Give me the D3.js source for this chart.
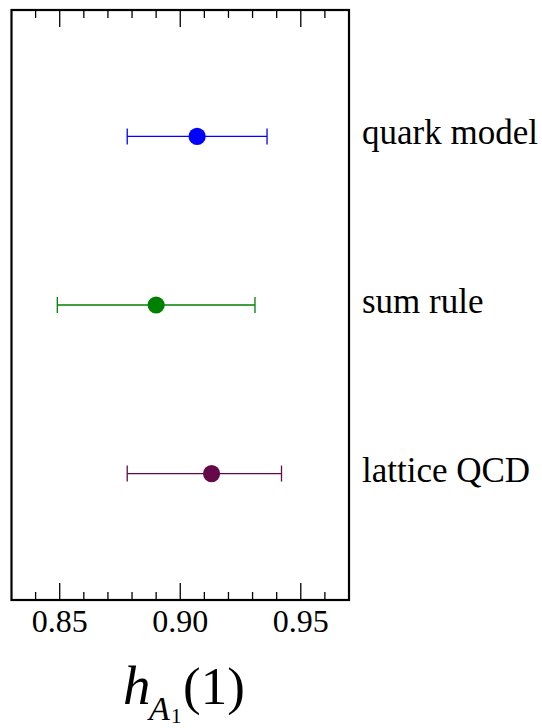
<!DOCTYPE html>
<html>
<head>
<meta charset="utf-8">
<script src="https://cdn.jsdelivr.net/npm/d3@7"></script>
<style>
  html, body { margin: 0; padding: 0; background: #fff; }
  svg { display: block; }
</style>
</head>
<body>
<svg id="chart" width="542" height="728"></svg>
<script>
const categories = ["quark model", "sum rule", "lattice QCD"];
const centralValues = [0.907, 0.890, 0.913];
const lowValues = [0.878, 0.849, 0.878];
const highValues = [0.936, 0.931, 0.942];
const colors = ["#0000ff", "#008000", "#640a4b"];
const majorTicks = [0.85, 0.90, 0.95];
const minorTicks = [0.84, 0.85, 0.86, 0.87, 0.88, 0.89, 0.90, 0.91, 0.92, 0.93, 0.94, 0.95, 0.96];
const tickLabels = ["0.85", "0.90", "0.95"];

(function () {
const FONT = "Liberation Serif";
const svg = d3.select("#chart");
const pLeft = 11.5, pRight = 349, pTop = 10, pBottom = 600;

const x = d3.scaleLinear().domain([0.83, 0.97]).range([pLeft, pRight]);
const y = d3.scalePoint().domain(categories).range([pTop, pBottom]).padding(0.75);

const minorLen = 8, majorLen = 17;
const tickG = svg.append("g").attr("stroke", "#000").attr("stroke-width", 1.3);
minorTicks.forEach(v => {
  const isMajor = majorTicks.some(m => Math.abs(m - v) < 1e-9);
  const len = isMajor ? majorLen : minorLen;
  tickG.append("line").attr("x1", x(v)).attr("x2", x(v)).attr("y1", pBottom).attr("y2", pBottom - len);
  tickG.append("line").attr("x1", x(v)).attr("x2", x(v)).attr("y1", pTop).attr("y2", pTop + len);
});

svg.append("rect")
  .attr("x", pLeft).attr("y", pTop)
  .attr("width", pRight - pLeft).attr("height", pBottom - pTop)
  .attr("fill", "none").attr("stroke", "#000").attr("stroke-width", 2.2);

majorTicks.forEach((v, i) => {
  svg.append("text")
    .attr("x", x(v)).attr("y", 632)
    .attr("text-anchor", "middle")
    .attr("font-family", FONT)
    .attr("font-size", 32)
    .attr("fill", "#000")
    .text(tickLabels[i]);
});

const capH = 8;
categories.forEach((c, i) => {
  const g = svg.append("g").attr("stroke", colors[i]).attr("stroke-width", 1.3);
  const yy = y(c);
  g.append("line").attr("x1", x(lowValues[i])).attr("x2", x(highValues[i])).attr("y1", yy).attr("y2", yy);
  g.append("line").attr("x1", x(lowValues[i])).attr("x2", x(lowValues[i])).attr("y1", yy - capH).attr("y2", yy + capH);
  g.append("line").attr("x1", x(highValues[i])).attr("x2", x(highValues[i])).attr("y1", yy - capH).attr("y2", yy + capH);
  svg.append("circle").attr("cx", x(centralValues[i])).attr("cy", yy).attr("r", 8.6).attr("fill", colors[i]);
  svg.append("text")
    .attr("x", 362).attr("y", yy + 8)
    .attr("font-family", FONT)
    .attr("font-size", 35)
    .attr("fill", "#000")
    .text(c);
});

const lab = svg.append("g").attr("font-family", FONT).attr("fill", "#000");
lab.append("text").attr("x", 123).attr("y", 704).attr("font-size", 55).attr("font-style", "italic").text("h");
lab.append("text").attr("x", 149).attr("y", 720).attr("font-size", 34).attr("font-style", "italic").text("A");
lab.append("text").attr("x", 171).attr("y", 723).attr("font-size", 21).text("1");
lab.append("text").attr("x", 183).attr("y", 704).attr("font-size", 53).text("(1)");
})();
</script>
</body>
</html>
